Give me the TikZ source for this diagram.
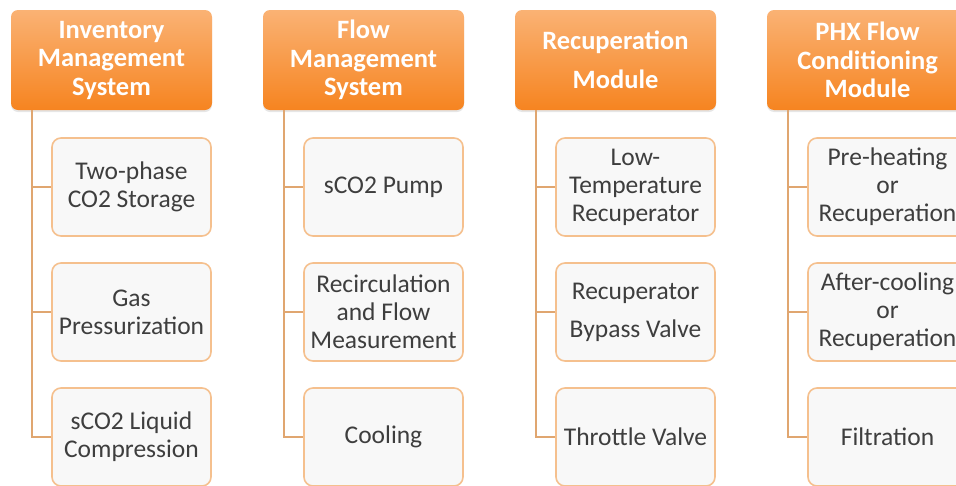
\documentclass[tikz,border=0pt]{standalone}
\usepackage{fontspec}
\setmainfont{Carlito}
\usetikzlibrary{positioning}
\usetikzlibrary{shadows}
\definecolor{hdrtop}{RGB}{250,178,116}
\definecolor{hdrbot}{RGB}{246,132,32}
\definecolor{itemline}{RGB}{245,192,142}
\definecolor{itemfill}{RGB}{248,248,248}
\definecolor{linkline}{RGB}{224,166,112}
\definecolor{textgray}{RGB}{62,62,62}
\tikzset{
	hdr/.style={rounded corners=7pt, top color=hdrtop, bottom color=hdrbot, draw=none,
		minimum width=201pt, minimum height=100pt, text=white, align=center,
		font=\fontsize{26.5}{28.5}\selectfont\bfseries,
		drop shadow={opacity=0.2, shadow xshift=0pt, shadow yshift=-2pt}},
	item/.style={rounded corners=9pt, draw=itemline, line width=1.6pt, fill=itemfill,
		minimum width=159pt, minimum height=98pt, text=textgray, align=center,
		font=\fontsize{25.5}{28}\selectfont},
	link/.style={draw=linkline, line width=1.8pt}
}

\begin{document}
\begin{tikzpicture}[x=1pt, y=-1pt]
	\useasboundingbox (0,0) rectangle (956,485);
	\clip (0,0) rectangle (956,485);
	
	% Inventory column
	\node[hdr] (inv) at (111.5,60) {Inventory\\Management\\System};
	\node[item] (inv1) at (131.5,187) {Two-phase\\CO2 Storage};
	\node[item] (inv2) at (131.5,312) {Gas\\Pressurization};
	\node[item] (inv3) at (131.5,437) {sCO2 Liquid\\Compression};
	\draw[link] ([xshift=21pt]inv.south west) |- (inv1.west);
	\draw[link] ([xshift=21pt]inv.south west) |- (inv2.west);
	\draw[link] ([xshift=21pt]inv.south west) |- (inv3.west);
	
	% Flow column
	\node[hdr] (flow) at (363.5,60) {Flow\\Management\\System};
	\node[item] (flow1) at (383.5,187) {sCO2 Pump};
	\node[item] (flow2) at (383.5,312) {Recirculation\\and Flow\\Measurement};
	\node[item] (flow3) at (383.5,437) {Cooling};
	\draw[link] ([xshift=21pt]flow.south west) |- (flow1.west);
	\draw[link] ([xshift=21pt]flow.south west) |- (flow2.west);
	\draw[link] ([xshift=21pt]flow.south west) |- (flow3.west);
	
	% Recuperation column
	\node[hdr] (recup) at (615.5,60) {Recuperation\\[10pt]Module};
	\node[item] (recup1) at (635.5,187) {Low-\\Temperature\\Recuperator};
	\node[item] (recup2) at (635.5,312) {Recuperator\\[10pt]Bypass Valve};
	\node[item] (recup3) at (635.5,437) {Throttle Valve};
	\draw[link] ([xshift=21pt]recup.south west) |- (recup1.west);
	\draw[link] ([xshift=21pt]recup.south west) |- (recup2.west);
	\draw[link] ([xshift=21pt]recup.south west) |- (recup3.west);
	
	% PHX column
	\node[hdr] (phx) at (867.5,60) {PHX Flow\\Conditioning\\Module};
	\node[item] (phx1) at (887.5,187) {Pre-heating\\or\\Recuperation};
	\node[item] (phx2) at (887.5,312) {After-cooling\\or\\Recuperation};
	\node[item] (phx3) at (887.5,437) {Filtration};
	\draw[link] ([xshift=21pt]phx.south west) |- (phx1.west);
	\draw[link] ([xshift=21pt]phx.south west) |- (phx2.west);
	\draw[link] ([xshift=21pt]phx.south west) |- (phx3.west);
	
\end{tikzpicture}
\end{document}
